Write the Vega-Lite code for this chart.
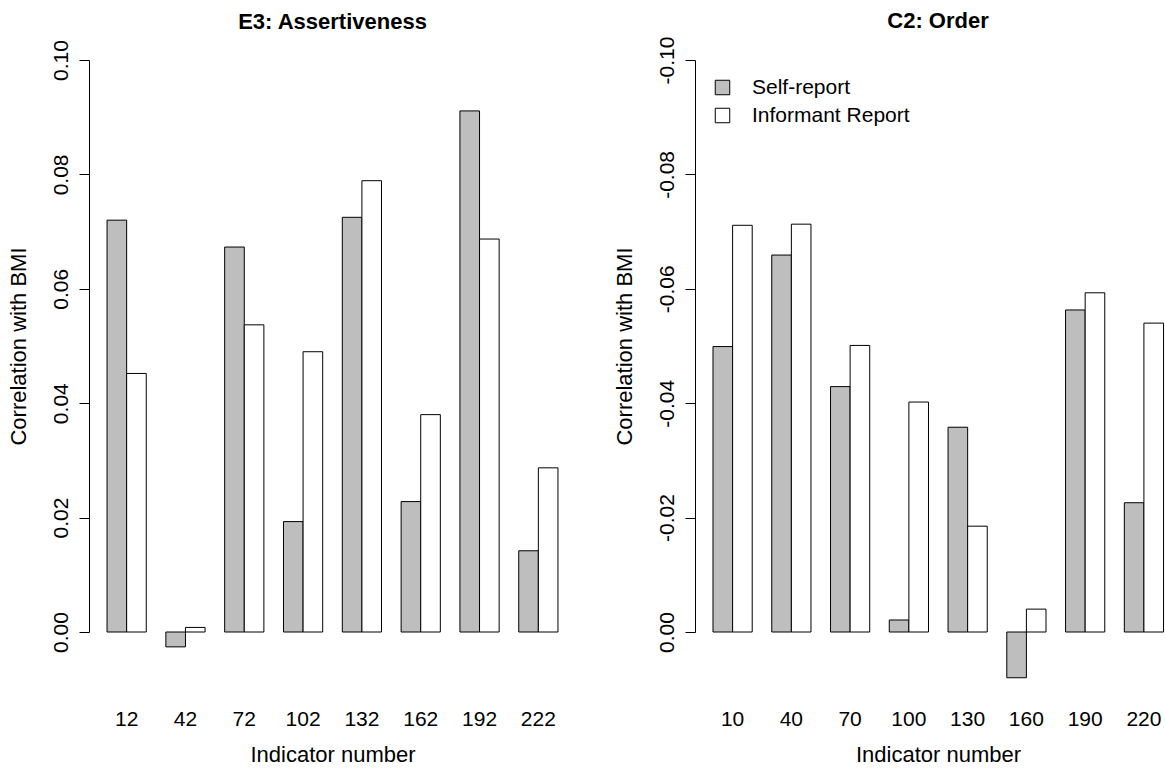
{
  "$schema": "https://vega.github.io/schema/vega-lite/v6.json",
  "usermeta": {"embedOptions": {"actions": false}},
  "background": "white",
  "padding": {"left": 7, "top": 10, "right": 0, "bottom": 0},
  "bounds": "flush",
  "spacing": 119,
  "resolve": {"scale": {"fill": "independent"}, "legend": {"fill": "independent"}},
  "config": {
    "font": "Liberation Sans",
    "view": {"stroke": null},
    "axis": {
      "labelFont": "Liberation Sans", "titleFont": "Liberation Sans",
      "labelColor": "black", "titleColor": "black",
      "labelFontSize": 21, "titleFontSize": 22, "titleFontWeight": "normal",
      "grid": false, "domainColor": "black", "tickColor": "black",
      "domainWidth": 1, "tickWidth": 1
    },
    "title": {"font": "Liberation Sans", "fontSize": 22, "fontWeight": "bold", "color": "black", "frame": "group", "anchor": "middle", "baseline": "alphabetic"}
  },
  "datasets": {
    "e3": [
      {"indicator": 12, "report": "Self-report", "value": 0.0720},
      {"indicator": 12, "report": "Informant Report", "value": 0.0452},
      {"indicator": 42, "report": "Self-report", "value": -0.0026},
      {"indicator": 42, "report": "Informant Report", "value": 0.0008},
      {"indicator": 72, "report": "Self-report", "value": 0.0673},
      {"indicator": 72, "report": "Informant Report", "value": 0.0537},
      {"indicator": 102, "report": "Self-report", "value": 0.0193},
      {"indicator": 102, "report": "Informant Report", "value": 0.0490},
      {"indicator": 132, "report": "Self-report", "value": 0.0725},
      {"indicator": 132, "report": "Informant Report", "value": 0.0789},
      {"indicator": 162, "report": "Self-report", "value": 0.0228},
      {"indicator": 162, "report": "Informant Report", "value": 0.0380},
      {"indicator": 192, "report": "Self-report", "value": 0.0911},
      {"indicator": 192, "report": "Informant Report", "value": 0.0687},
      {"indicator": 222, "report": "Self-report", "value": 0.0142},
      {"indicator": 222, "report": "Informant Report", "value": 0.0287}
    ],
    "c2": [
      {"indicator": 10, "report": "Self-report", "value": -0.0499},
      {"indicator": 10, "report": "Informant Report", "value": -0.0711},
      {"indicator": 40, "report": "Self-report", "value": -0.0659},
      {"indicator": 40, "report": "Informant Report", "value": -0.0713},
      {"indicator": 70, "report": "Self-report", "value": -0.0429},
      {"indicator": 70, "report": "Informant Report", "value": -0.0501},
      {"indicator": 100, "report": "Self-report", "value": -0.0021},
      {"indicator": 100, "report": "Informant Report", "value": -0.0402},
      {"indicator": 130, "report": "Self-report", "value": -0.0358},
      {"indicator": 130, "report": "Informant Report", "value": -0.0185},
      {"indicator": 160, "report": "Self-report", "value": 0.0080},
      {"indicator": 160, "report": "Informant Report", "value": -0.0040},
      {"indicator": 190, "report": "Self-report", "value": -0.0563},
      {"indicator": 190, "report": "Informant Report", "value": -0.0593},
      {"indicator": 220, "report": "Self-report", "value": -0.0226},
      {"indicator": 220, "report": "Informant Report", "value": -0.0540}
    ]
  },
  "hconcat": [
    {
      "width": 487,
      "height": 572,
      "title": {"text": "E3: Assertiveness", "offset": 6},
      "data": {"name": "e3"},
      "mark": {"type": "bar", "stroke": "black", "strokeWidth": 1},
      "encoding": {
        "x": {
          "field": "indicator", "type": "ordinal",
          "scale": {"paddingInner": 0.3333, "paddingOuter": 0.3067},
          "axis": {"title": "Indicator number", "labelAngle": 0, "domain": false, "ticks": false, "tickSize": 0, "labelPadding": 93, "labelBaseline": "alphabetic", "titlePadding": 15}
        },
        "xOffset": {"field": "report", "type": "nominal", "sort": ["Self-report", "Informant Report"], "scale": {"paddingInner": 0, "paddingOuter": 0}},
        "y": {
          "field": "value", "type": "quantitative",
          "scale": {"domain": [0, 0.1], "nice": false, "zero": false},
          "axis": {"title": "Correlation with BMI", "values": [0, 0.02, 0.04, 0.06, 0.08, 0.1], "labelExpr": "replace(format(datum.value, '.2f'), '\u2212', '-')", "labelAngle": -90, "labelAlign": "center", "labelBaseline": "alphabetic", "tickSize": 10, "labelPadding": 12, "titlePadding": 20}
        },
        "y2": {"datum": 0},
        "fill": {"field": "report", "type": "nominal", "scale": {"domain": ["Self-report", "Informant Report"], "range": ["#BEBEBE", "#FFFFFF"]}, "legend": null}
      }
    },
    {
      "width": 470,
      "height": 572,
      "title": {"text": "C2: Order", "offset": 3, "dx": 8},
      "data": {"name": "c2"},
      "mark": {"type": "bar", "stroke": "black", "strokeWidth": 1},
      "encoding": {
        "x": {
          "field": "indicator", "type": "ordinal",
          "scale": {"paddingInner": 0.3333, "paddingOuter": 0.166, "align": 0.9226},
          "axis": {"title": "Indicator number", "labelAngle": 0, "domain": false, "ticks": false, "tickSize": 0, "labelPadding": 93, "labelBaseline": "alphabetic", "titlePadding": 15, "titleX": 243}
        },
        "xOffset": {"field": "report", "type": "nominal", "sort": ["Self-report", "Informant Report"], "scale": {"paddingInner": 0, "paddingOuter": 0}},
        "y": {
          "field": "value", "type": "quantitative",
          "scale": {"domain": [0, -0.1], "nice": false, "zero": false},
          "axis": {"title": "Correlation with BMI", "values": [0, -0.02, -0.04, -0.06, -0.08, -0.1], "labelExpr": "replace(format(datum.value, '.2f'), '\u2212', '-')", "labelAngle": -90, "labelAlign": "center", "labelBaseline": "alphabetic", "tickSize": 10, "labelPadding": 12, "titlePadding": 20}
        },
        "y2": {"datum": 0},
        "fill": {
          "field": "report", "type": "nominal",
          "scale": {"domain": ["Self-report", "Informant Report"], "range": ["#BEBEBE", "#FFFFFF"]},
          "legend": {"orient": "none", "legendX": 17, "legendY": 17, "title": null, "symbolType": "square", "symbolSize": 210, "symbolStrokeColor": "black", "symbolStrokeWidth": 1, "labelFontSize": 21, "labelFont": "Liberation Sans", "labelColor": "black", "labelOffset": 19, "rowPadding": 6, "padding": 0}
        }
      }
    }
  ]
}
